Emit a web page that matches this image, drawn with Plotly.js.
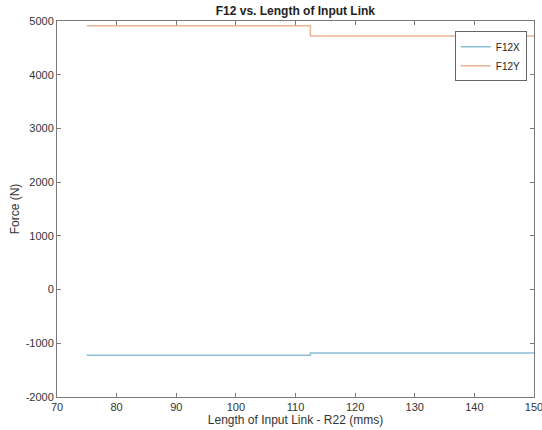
<!DOCTYPE html>
<html><head><meta charset="utf-8">
<script src="https://cdn.plot.ly/plotly-3.0.1.min.js"></script>
<style>html,body{margin:0;padding:0;background:#fff}#chart{width:542px;height:430px}</style>
</head><body><div id="chart"></div>
<script>
const lengthR22 = [75, 112.5, 150];
const f12x = [-1222, -1180, -1180];
const f12y = [4910, 4722, 4722];
const seriesNames = ['F12X', 'F12Y'];
const xTicks = [70, 80, 90, 100, 110, 120, 130, 140, 150];
const yTicks = [-2000, -1000, 0, 1000, 2000, 3000, 4000, 5000];
const yTickText = ['-2000', '-1000', '0', '1000', '2000', '3000', '4000', '5000'];

const traces = [
  {x: lengthR22, y: f12x, name: seriesNames[0], type: 'scatter', mode: 'lines',
   line: {shape: 'hv', color: '#8cbdd6', width: 1.5}},
  {x: lengthR22, y: f12y, name: seriesNames[1], type: 'scatter', mode: 'lines',
   line: {shape: 'hv', color: '#e8b592', width: 1.5}}
];
const axisCommon = {
  showline: true, mirror: 'ticks', linecolor: '#7a7a7a', linewidth: 1,
  ticks: 'inside', ticklen: 4, tickcolor: '#7a7a7a', showgrid: false, zeroline: false,
  ticklabeloverflow: 'allow',
  tickfont: {family: 'Liberation Sans, Arial, sans-serif', size: 11, color: '#333'}
};
const layout = {
  width: 542, height: 430,
  margin: {l: 57, r: 8, t: 21, b: 33},
  paper_bgcolor: '#fff', plot_bgcolor: '#fff',
  title: {text: '<b>F12 vs. Length of Input Link</b>', x: 0.545, xanchor: 'center', y: 0.985, yanchor: 'top',
          font: {family: 'Liberation Sans, Arial, sans-serif', size: 12, color: '#222'}},
  xaxis: Object.assign({}, axisCommon, {range: [70, 150], tickvals: xTicks,
    title: {text: 'Length of Input Link - R22 (mms)', standoff: 2,
            font: {family: 'Liberation Sans, Arial, sans-serif', size: 12, color: '#333'}}}),
  yaxis: Object.assign({}, axisCommon, {range: [-2000, 5000], tickvals: yTicks, ticktext: yTickText,
    title: {text: 'Force (N)', standoff: 3,
            font: {family: 'Liberation Sans, Arial, sans-serif', size: 12, color: '#333'}}}),
  showlegend: true,
  legend: {x: 0.985, xanchor: 'right', y: 0.973, yanchor: 'top',
           bgcolor: '#fff', bordercolor: '#666', borderwidth: 1,
           font: {family: 'Liberation Sans, Arial, sans-serif', size: 10, color: '#222'},
           tracegroupgap: 0, itemwidth: 30}
};
Plotly.newPlot('chart', traces, layout, {displayModeBar: false, staticPlot: true});
</script></body></html>
